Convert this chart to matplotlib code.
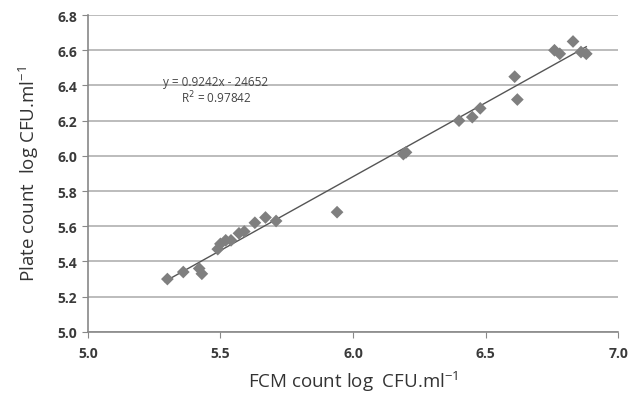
import numpy as np
import matplotlib.pyplot as plt

plt.rcParams['font.family'] = ['Open Sans', 'DejaVu Sans']

fcm = [5.30, 5.36, 5.42, 5.43, 5.49, 5.50, 5.52, 5.54, 5.57, 5.59, 5.63, 5.67, 5.71,
       5.94, 6.19, 6.20, 6.40, 6.45, 6.48, 6.61, 6.62, 6.76, 6.78, 6.83, 6.86, 6.88]
plate = [5.30, 5.34, 5.36, 5.33, 5.47, 5.50, 5.52, 5.52, 5.56, 5.57, 5.62, 5.65, 5.63,
         5.68, 6.01, 6.02, 6.20, 6.22, 6.27, 6.45, 6.32, 6.60, 6.58, 6.65, 6.59, 6.58]

eq_text = "y = 0.9242x - 24652"
r2_text = "R$^{2}$ = 0.97842"

xticks = [5.0, 5.5, 6.0, 6.5, 7.0]
yticks = [5.0, 5.2, 5.4, 5.6, 5.8, 6.0, 6.2, 6.4, 6.6, 6.8]

fig = plt.figure(figsize=(6.32, 4.02), dpi=100)
ax = fig.add_axes([0.139, 0.172, 0.839, 0.788])

ax.set_xlim(5.0, 7.0)
ax.set_ylim(5.0, 6.8)
ax.set_xticks(xticks)
ax.set_yticks(yticks)
ax.set_xticklabels([f"{t:.1f}" for t in xticks], fontweight='bold', color='#3a3a3a')
ax.set_yticklabels([f"{t:.1f}" for t in yticks], fontweight='bold', color='#3a3a3a')
ax.tick_params(axis='both', labelsize=10, length=4, color='#888888', direction='out')
ax.tick_params(axis='x', pad=6)

ax.grid(axis='y', color='#b0b0b0', linewidth=1.2)
ax.set_axisbelow(True)
for s in ['top', 'right']:
    ax.spines[s].set_visible(False)
for s in ['left', 'bottom']:
    ax.spines[s].set_color('#888888')
    ax.spines[s].set_linewidth(1.2)

# trend line over data range
coef = np.polyfit(fcm, plate, 1)
xs = np.array([min(fcm) - 0.01, max(fcm)])
ax.plot(xs, np.polyval(coef, xs), color='#555555', linewidth=1.0, zorder=2)

ax.scatter(fcm, plate, marker='D', s=42, color='#7f7f7f', edgecolors='none', zorder=3)

ax.text(5.285, 6.425, eq_text, fontsize=8.5, color='#444444', ha='left', va='center')
ax.text(5.35, 6.335, r2_text, fontsize=8.5, color='#444444', ha='left', va='center')

ax.set_xlabel("FCM count log  CFU.ml$^{\\mathregular{-1}}$", fontsize=13.5, color='#333333', labelpad=6)
ax.set_ylabel("Plate count  log CFU.ml$^{\\mathregular{-1}}$", fontsize=13.5, color='#333333', labelpad=12)

fig.savefig("out.png", dpi=100)
